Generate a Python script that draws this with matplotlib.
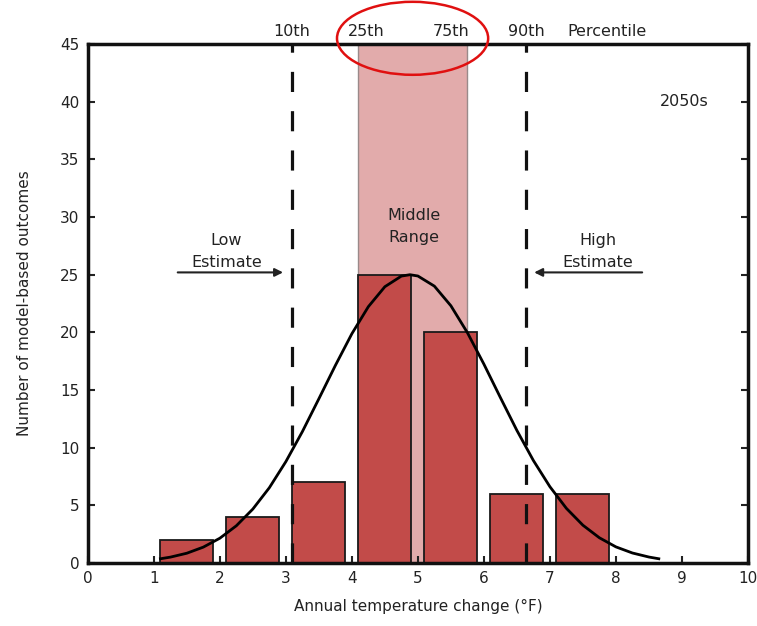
import numpy as np
import matplotlib
matplotlib.use("Agg")
import matplotlib.pyplot as plt
from matplotlib.patches import Ellipse

plt.rcParams["font.family"] = ["DejaVu Sans"]

# histogram of model-based outcomes
bar_centers = [1.5, 2.5, 3.5, 4.5, 5.5, 6.5, 7.5]
bar_counts = [2, 4, 7, 25, 20, 6, 6]

# fitted curve
curve_x = [1.1, 1.25, 1.5, 1.75, 2.0, 2.25, 2.5, 2.75, 3.0, 3.25, 3.5, 3.75, 4.0, 4.25,
           4.5, 4.75, 4.88, 5.0, 5.25, 5.5, 5.75, 6.0, 6.25, 6.5, 6.75, 7.0, 7.25, 7.5,
           7.75, 8.0, 8.25, 8.5, 8.65]
curve_y = [0.37, 0.51, 0.85, 1.38, 2.15, 3.23, 4.68, 6.53, 8.79, 11.39, 14.24, 17.13, 19.88, 22.23,
           23.96, 24.88, 25.0, 24.89, 24.01, 22.31, 19.98, 17.25, 14.35, 11.5, 8.89, 6.62, 4.74, 3.28,
           2.19, 1.4, 0.87, 0.52, 0.37]

# percentiles
p10, p25, p75, p90 = 3.09, 4.1, 5.75, 6.64

fig = plt.figure(figsize=(7.57, 6.26), dpi=100)
ax = fig.add_axes([0.116, 0.1006, 0.872, 0.829])

ax.axvspan(p25, p75, color="#e2abab", ec="#9a8a8a", lw=1, zorder=1)
ax.bar(bar_centers, bar_counts, width=0.8, color="#c24b49", edgecolor="#1a1a1a", lw=1.3, zorder=2)
ax.plot(curve_x, curve_y, color="black", lw=2, zorder=4, solid_joinstyle="round")
for p in (p10, p90):
    ax.axvline(p, color="#111111", lw=2.3, dashes=(6.3, 6), zorder=3)

ax.set_xlim(0, 10)
ax.set_ylim(0, 45)
ax.set_xticks(range(0, 11))
ax.set_yticks(range(0, 46, 5))
ax.tick_params(direction="in", length=5, width=1.5, labelsize=11, colors="#222222",
               right=True, top=False, pad=6)
for s in ax.spines.values():
    s.set_linewidth(2.5)
    s.set_color("#111111")

ax.set_xlabel("Annual temperature change (°F)", fontsize=11, color="#222222", labelpad=9)
ax.set_ylabel("Number of model-based outcomes", fontsize=11, color="#222222", labelpad=20)

tk = dict(fontsize=11.5, color="#222222", va="bottom", ha="center", clip_on=False)
ax.text(p10, 45.4, "10th", **tk)
ax.text(p25 + 0.12, 45.4, "25th", **tk)
ax.text(p75 - 0.25, 45.4, "75th", **tk)
ax.text(p90, 45.4, "90th", **tk)
ax.text(7.87, 45.4, "Percentile", **tk)

ax.text(9.03, 40, "2050s", fontsize=11.5, color="#222222", ha="center", va="center")
ax.text(4.94, 29.2, "Middle\nRange", fontsize=11.5, color="#222222", ha="center", va="center",
        linespacing=1.6)
ax.text(2.1, 27.0, "Low\nEstimate", fontsize=11.5, color="#222222", ha="center", va="center",
        linespacing=1.6)
ax.text(7.73, 27.0, "High\nEstimate", fontsize=11.5, color="#222222", ha="center", va="center",
        linespacing=1.6)
ax.annotate("", xy=(3.0, 25.2), xytext=(1.32, 25.2),
            arrowprops=dict(arrowstyle="-|>", color="#222222", lw=1.5, mutation_scale=12))
ax.annotate("", xy=(6.72, 25.2), xytext=(8.44, 25.2),
            arrowprops=dict(arrowstyle="-|>", color="#222222", lw=1.5, mutation_scale=12))

ax.add_patch(Ellipse((4.92, 45.5), 2.29, 6.33, fill=False, ec="#e01010", lw=1.8,
                     clip_on=False, zorder=6))

fig.savefig("out.png", dpi=100, facecolor="white")
